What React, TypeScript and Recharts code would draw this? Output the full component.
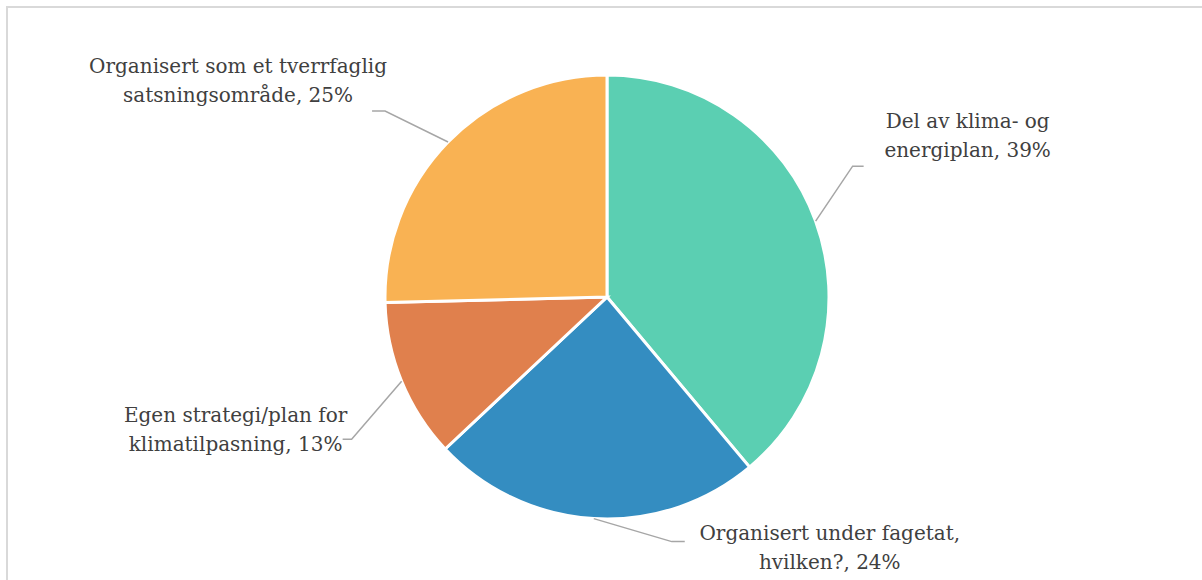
import { PieChart, Pie, Cell } from 'recharts';

// Slice shares (angles), and the percentages printed in the labels
const categories = [
  'Del av klima- og energiplan',
  'Organisert under fagetat, hvilken?',
  'Egen strategi/plan for klimatilpasning',
  'Organisert som et tverrfaglig satsningsområde',
];
const shares = [38.9, 24.1, 11.6, 25.4];
const labelPercents = ['39%', '24%', '13%', '25%'];
// how each category label wraps onto two lines
const labelLines = [
  ['Del av klima- og', 'energiplan'],
  ['Organisert under fagetat,', 'hvilken?'],
  ['Egen strategi/plan for', 'klimatilpasning'],
  ['Organisert som et tverrfaglig', 'satsningsområde'],
];

const colors = ['#5bcfb2', '#348dc1', '#e0804d', '#f9b253'];

// leader line layout: elbow offset from slice edge, tail length, text offset from tail end
const leaderLayout = [
  { ex: 37, ey: -55, tail: 11, tx: 104, ty: -38 },
  { ex: 78, ey: 23, tail: 13, tx: 145, ty: -2 },
  { ex: -50, ey: 58, tail: -9, tx: -107, ty: -17 },
  { ex: -63, ey: -31, tail: -13, tx: -134, ty: -38 },
];

const data = categories.map((name, i) => ({ name, value: shares[i] }));

const RADIAN = Math.PI / 180;

const renderLabel = (props: any) => {
  const { cx, cy, midAngle, outerRadius, index } = props;
  const lay = leaderLayout[index];
  const sx = cx + outerRadius * Math.cos(-midAngle * RADIAN);
  const sy = cy + outerRadius * Math.sin(-midAngle * RADIAN);
  const mx = sx + lay.ex;
  const my = sy + lay.ey;
  const endX = mx + lay.tail;
  const tx = endX + lay.tx;
  const ty = my + lay.ty;
  const lines = labelLines[index];
  return (
    <g>
      <polyline
        points={`${sx},${sy} ${mx},${my} ${endX},${my}`}
        fill="none"
        stroke="#a6a6a6"
        strokeWidth={1.5}
      />
      <text
        x={tx}
        y={ty}
        textAnchor="middle"
        fill="#404040"
        fontSize={20}
        fontFamily="'DejaVu Serif', serif"
      >
        <tspan x={tx} dy={0}>{lines[0]}</tspan>
        <tspan x={tx} dy={29}>{`${lines[1]}, ${labelPercents[index]}`}</tspan>
      </text>
    </g>
  );
};

export default function App() {
  return (
    <div style={{ position: 'absolute', left: 0, top: 0, width: 1202, height: 580, overflow: 'hidden', background: '#fff' }}>
      <div
        style={{
          position: 'absolute',
          left: 6,
          top: 6,
          width: 1300,
          height: 700,
          border: '2px solid #d9d9d9',
        }}
      />
      <div style={{ position: 'absolute', left: 0, top: 0 }}>
        <PieChart width={1202} height={580} margin={{ top: 0, right: 0, bottom: 0, left: 0 }}>
          <Pie
            data={data}
            dataKey="value"
            nameKey="name"
            cx={607}
            cy={297}
            outerRadius={222}
            startAngle={90}
            endAngle={-270}
            stroke="#ffffff"
            strokeWidth={3}
            label={renderLabel}
            labelLine={false}
            isAnimationActive={false}
          >
            {data.map((d, i) => (
              <Cell key={d.name} fill={colors[i]} />
            ))}
          </Pie>
        </PieChart>
      </div>
    </div>
  );
}
